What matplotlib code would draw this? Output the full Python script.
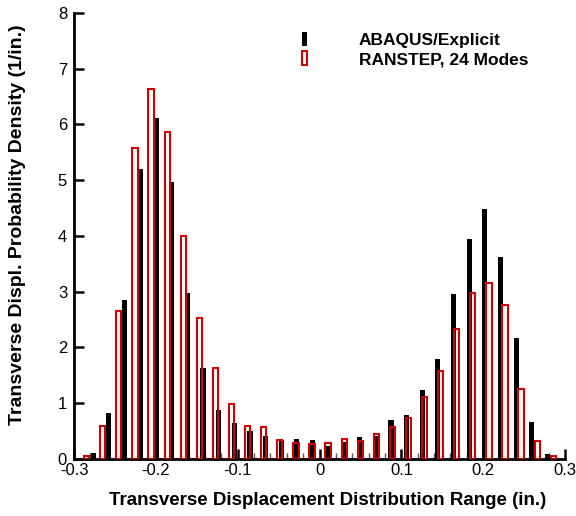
import matplotlib
matplotlib.use('Agg')
import matplotlib.pyplot as plt
from matplotlib.ticker import MultipleLocator

plt.rcParams['font.family'] = ['Liberation Sans', 'DejaVu Sans']

# Bin centres and densities
abaqus_x = [-0.2765, -0.2574, -0.2382, -0.2191, -0.1999, -0.1808, -0.1617, -0.1425,
            -0.1234, -0.1042, -0.0851, -0.0660, -0.0468, -0.0277, -0.0085, 0.0106,
            0.0297, 0.0489, 0.0680, 0.0872, 0.1063, 0.1254, 0.1446, 0.1637,
            0.1829, 0.2020, 0.2211, 0.2403, 0.2594, 0.2786]
abaqus_y = [0.11, 0.83, 2.85, 5.20, 6.12, 4.96, 2.98, 1.64, 0.88, 0.65,
            0.51, 0.41, 0.34, 0.35, 0.34, 0.23, 0.30, 0.40, 0.41, 0.70,
            0.79, 1.24, 1.79, 2.96, 3.95, 4.49, 3.62, 2.17, 0.66, 0.09]

ranstep_x = [-0.2845, -0.2648, -0.2452, -0.2255, -0.2059, -0.1862, -0.1665, -0.1469,
             -0.1272, -0.1076, -0.0879, -0.0682, -0.0486, -0.0289, -0.0093, 0.0104,
             0.0301, 0.0497, 0.0694, 0.0890, 0.1087, 0.1284, 0.1480, 0.1677,
             0.1873, 0.2070, 0.2267, 0.2463, 0.2660, 0.2856]
ranstep_y = [0.06, 0.59, 2.66, 5.57, 6.63, 5.87, 4.00, 2.53, 1.64, 0.98,
             0.59, 0.57, 0.34, 0.28, 0.26, 0.28, 0.35, 0.33, 0.45, 0.57,
             0.73, 1.11, 1.57, 2.33, 2.97, 3.16, 2.76, 1.26, 0.32, 0.05]

x_ticks = [-0.3, -0.2, -0.1, 0, 0.1, 0.2, 0.3]
x_ticklabels = ['-0.3', '-0.2', '-0.1', '0', '0.1', '0.2', '0.3']

fig = plt.figure(figsize=(5.76, 5.16), dpi=100)
ax = fig.add_axes([0.1285, 0.1105, 0.8525, 0.8643])

ax.bar(abaqus_x, abaqus_y, width=0.0064, color='black', linewidth=0,
       label='ABAQUS/Explicit', zorder=2)
ax.bar(ranstep_x, ranstep_y, width=0.0064, facecolor='none', edgecolor='#d40000',
       linewidth=1.5, label='RANSTEP, 24 Modes', zorder=3)

ax.set_xlim(-0.3, 0.3)
ax.set_ylim(0, 8)
ax.xaxis.set_minor_locator(MultipleLocator(0.02))
ax.yaxis.set_major_locator(MultipleLocator(1))
ax.set_xticks(x_ticks)
ax.set_xticklabels(x_ticklabels)

for side in ['top', 'right']:
    ax.spines[side].set_visible(False)
for side in ['left', 'bottom']:
    ax.spines[side].set_linewidth(2)

ax.tick_params(axis='both', which='major', direction='in', length=7, width=1.8,
               labelsize=12)
ax.tick_params(axis='y', which='major', pad=5)
ax.tick_params(axis='x', which='major', pad=3)
ax.tick_params(axis='x', which='minor', direction='in', length=4, width=1,
               color='#555555')

ax.set_xlabel('Transverse Displacement Distribution Range (in.)',
              fontsize=13.5, fontweight='bold')
ax.xaxis.set_label_coords(0.517, -0.075)
ax.set_ylabel('Transverse Displ. Probability Density (1/in.)',
              fontsize=14, fontweight='bold')
ax.yaxis.set_label_coords(-0.098, 0.525)

ax.legend(loc='upper left', bbox_to_anchor=(0.464, 0.958), frameon=False,
          handlelength=0.32, handleheight=0.85, handletextpad=2.95,
          labelspacing=0.2, borderpad=0, borderaxespad=0,
          prop={'size': 12.5, 'weight': 'bold'})

fig.savefig('out.png', dpi=100)
